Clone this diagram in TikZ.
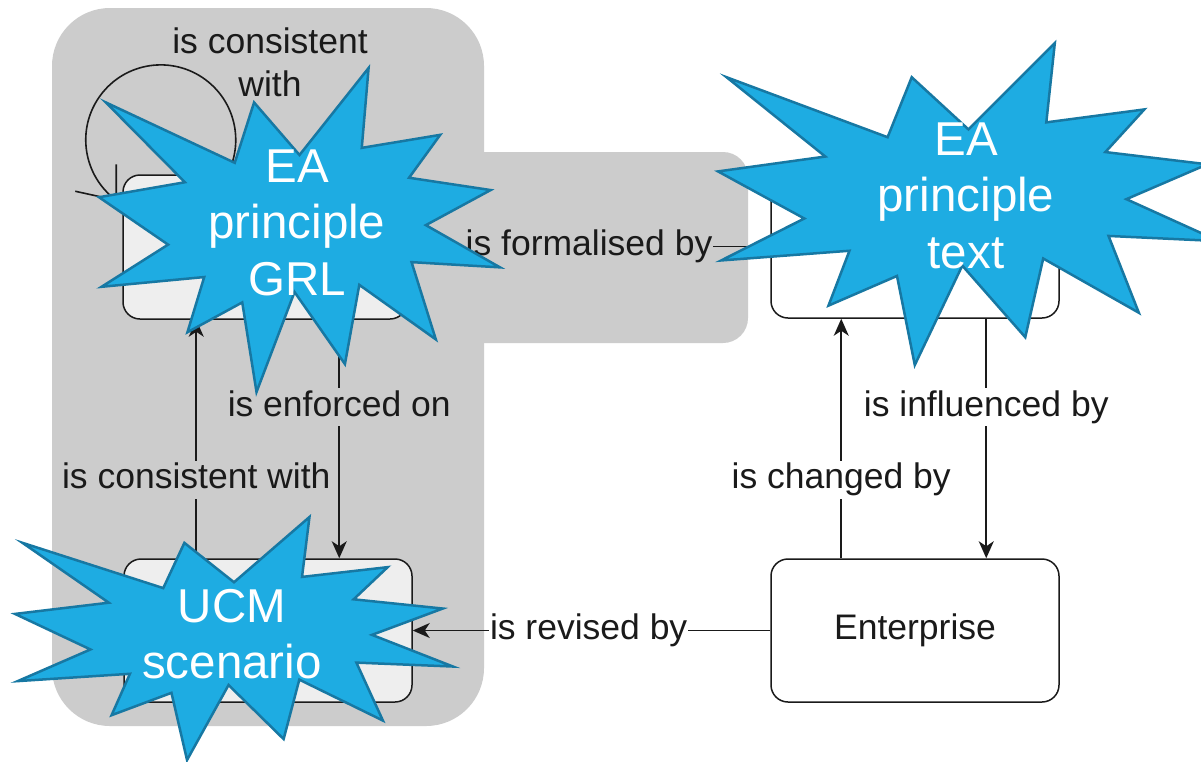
\documentclass[tikz,border=0pt]{standalone}
\usepackage{fontspec}
\setmainfont{Liberation Sans}
\usetikzlibrary{arrows.meta,calc}

\definecolor{panelgray}{HTML}{CCCCCC}
\definecolor{boxgray}{HTML}{EEEEEE}
\definecolor{burstfill}{HTML}{1EACE2}
\definecolor{burstline}{HTML}{1778A3}
\definecolor{ink}{HTML}{1A1A1A}

\tikzset{
  entity/.style={draw=ink, line width=1.5pt, rounded corners=17pt,
    minimum width=288pt, minimum height=143pt, inner sep=0pt,
    font=\fontsize{35.5}{42}\selectfont, text=ink},
  conn/.style={draw=ink, line width=1.6pt},
  arrowconn/.style={conn, -{Stealth[length=17pt,width=15pt,inset=5pt]}},
  lbl/.style={font=\fontsize{35.5}{42}\selectfont, text=ink,
    inner xsep=1pt, inner ysep=2pt, text height=26pt, text depth=8pt},
  burst/.style={fill=burstfill, draw=burstline, line width=2.5pt},
  bursttext/.style={font=\fontsize{47.5}{56.5}\selectfont, text=white,
    inner sep=0pt, anchor=base},
}

% Explosion outline on a 100 x 100 grid, stretched to a box of #3 x #4 at (#1,#2)
\newcommand{\explosion}[4]{%
  \begin{scope}[shift={(#1,#2)}, xscale=#3/100, yscale=#4/100]
    \path[burst] (50.00,26.85) -- (67.23,0) -- (65.53,24.65) -- (85.09,20.63)
      -- (77.32,33.87) -- (97.67,37.67) -- (81.51,48.50) -- (100,61.53)
      -- (77.95,59.92) -- (84.00,83.77) -- (64.91,66.93) -- (61.33,91.38)
      -- (48.76,69.14) -- (39.28,100) -- (35.72,72.35) -- (22.05,81.56)
      -- (26.24,64.52) -- (0.63,67.53) -- (17.23,54.51) -- (0,39.88)
      -- (21.42,35.26) -- (1.71,10.63) -- (33.85,29.26) -- (38.67,10.63)
      -- cycle;
  \end{scope}}

\begin{document}
\begin{tikzpicture}[x=1pt, y=-1pt]
  \useasboundingbox (0,0) rectangle (1201,761);
  \fill[white] (0,0) rectangle (1201,761);

  % grey grouping panel
  \fill[panelgray, rounded corners=58pt] (52,8) rectangle (484,726);
  \fill[panelgray, rounded corners=25pt] (420,152) rectangle (748,343);

  % entities
  \node[entity, fill=boxgray, minimum width=284pt, minimum height=144pt] (grl) at (265,247) {};
  \node[entity, fill=boxgray] (ucm) at (268,630.5) {};
  \node[entity, fill=white] (txt) at (915,246.5) {};
  \node[entity, fill=white] (ent) at (915,630.5) {Enterprise};

  % self relation of the GRL principle
  \coordinate (looptip) at ($(grl.north west)+(-6,26)$);
  \draw[conn] (looptip) arc[start angle=233.6, delta angle=-350, radius=75pt];
  \draw[conn] ($(looptip)+(0,-36)$) -- (looptip) -- ($(looptip)+(-41,-9)$);
  \node[font=\fontsize{35.5}{43.5}\selectfont, text=ink, inner sep=0pt, anchor=base]
    (looplbl) at (270,53) {\begin{tabular}[t]{@{}c@{}}is consistent\\with\end{tabular}};

  % relations
  \draw[arrowconn] (txt.west) -- node[lbl, fill=panelgray] {is formalised by} (txt.west -| grl.east);
  \draw[arrowconn] ([xshift=73pt]ucm.north west) -- node[lbl, fill=panelgray, pos=0.33] {is consistent with}
    ([xshift=73pt]ucm.north west |- grl.south);
  \draw[arrowconn] ([xshift=217pt]grl.south west) -- node[lbl, fill=panelgray, pos=0.367] {is enforced on}
    ([xshift=217pt]grl.south west |- ucm.north);
  \draw[arrowconn] ([xshift=71pt]ent.north west) -- node[lbl, fill=white, pos=0.328] {is changed by}
    ([xshift=71pt]ent.north west |- txt.south);
  \draw[arrowconn] ([xshift=216pt]txt.south west) -- node[lbl, fill=white, pos=0.369] {is influenced by}
    ([xshift=216pt]txt.south west |- ent.north);
  \draw[arrowconn] (ent.west) -- node[lbl, fill=white, pos=0.508] {is revised by} (ent.west -| ucm.east);

  % explosion call-outs
  \explosion{99}{68}{401}{324}
  \node[bursttext] (grlburst) at (297,182)
    {\begin{tabular}[t]{@{}c@{}}EA\\principle\\GRL\end{tabular}};
  \explosion{718}{43}{501}{322}
  \node[bursttext] (txtburst) at (966,155)
    {\begin{tabular}[t]{@{}c@{}}EA\\principle\\text\end{tabular}};
  \explosion{15}{517}{438}{243}
  \node[bursttext] (ucmburst) at (232,622)
    {\begin{tabular}[t]{@{}c@{}}UCM\\scenario\end{tabular}};
\end{tikzpicture}
\end{document}
